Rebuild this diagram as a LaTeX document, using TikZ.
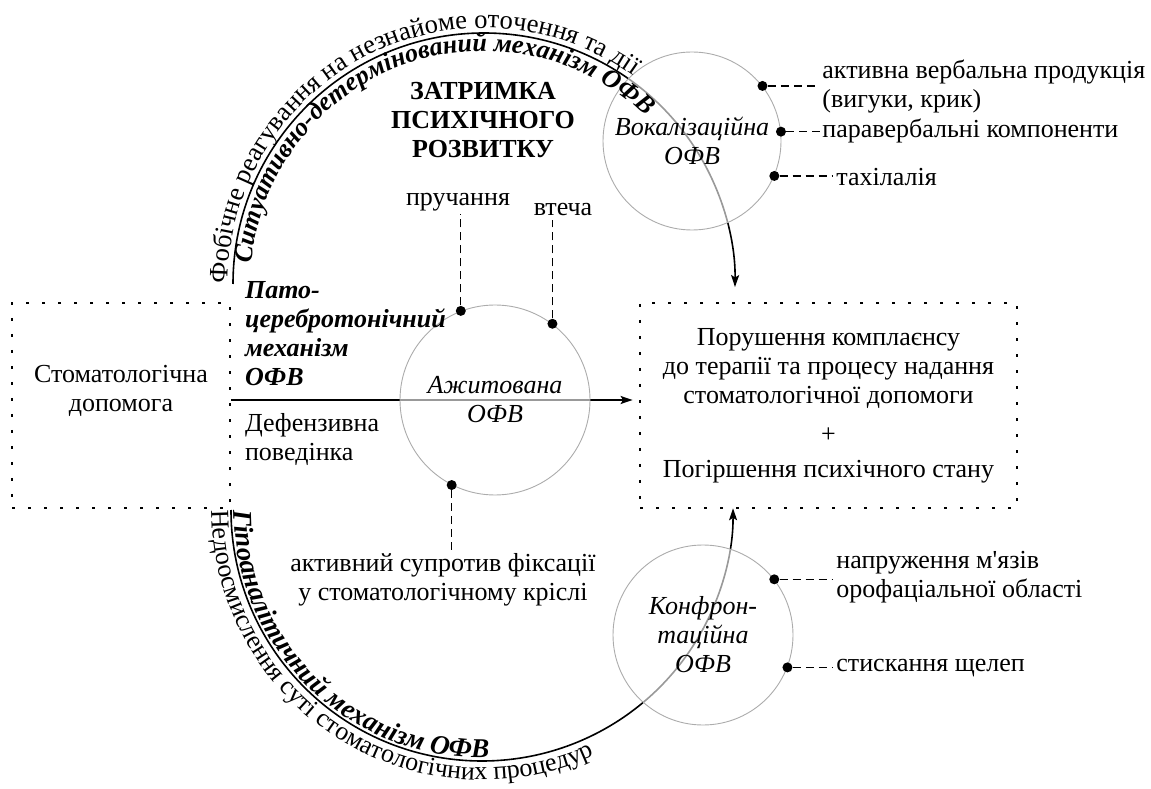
\documentclass[tikz,border=0pt]{standalone}
\usepackage{fontspec}
\setmainfont{Liberation Serif}
\usetikzlibrary{arrows.meta}
\usetikzlibrary{positioning}
\usetikzlibrary{calc, backgrounds, decorations.text}

\tikzset{
  dotbox/.style={draw, line width=1.4pt, dash pattern=on 1.4pt off 6.6pt, inner sep=0pt},
  ofv/.style={circle, draw=gray!65, line width=0.45pt, fill=white, fill opacity=0.6, text opacity=1, font=\itshape, align=center, inner sep=0pt},
  flow/.style={line width=0.8pt, -{Stealth[length=6pt,width=4pt,inset=1.2pt]}},
  dot/.style={circle, fill=black, inner sep=0pt, minimum size=5pt},
  lead/.style={line width=0.6pt, dash pattern=on 4pt off 2.5pt},
  lbl/.style={inner sep=1.5pt, align=left}
}

\begin{document}
\fontsize{13}{14.5}\selectfont
\begin{tikzpicture}[x=0.5pt,y=0.5pt]
\useasboundingbox (0,0) rectangle (1151,788);

% boxes
\node[dotbox, minimum width=109pt, minimum height=102.5pt] (care) at (121,382.5) {};
\node[align=center] (care text) at (121,397) {Стоматологічна\\допомога};
\node[dotbox, minimum width=188.5pt, minimum height=102.5pt, align=center] (result) at (828.5,382.5)
  {Порушення комплаєнсу\\до терапії та процесу надання\\стоматологічної допомоги\\[5pt]+\\[3pt]Погіршення психічного стану};

% forms of behaviour
\node[ofv, minimum size=95pt] (agit) at (495,388) {Ажитована\\ОФВ};
\node[ofv, minimum size=89pt] (vocal) at (692,647) {Вокалізаційна\\ОФВ};
\node[ofv, minimum size=90pt] (confr) at (703,153) {Конфрон-\\таційна\\ОФВ};

\node[font=\bfseries, align=center] (delay) at (483,668) {ЗАТРИМКА\\ПСИХІЧНОГО\\РОЗВИТКУ};
\node[font=\bfseries\itshape, align=left, anchor=west] (patho) at (236,454) {Пато-\\церебротонічний\\механізм\\ОФВ};
\node[align=left, anchor=west] (defens) at (236,349) {Дефензивна\\поведінка};

% agitated
\node[dot] (pr dot) at (agit.111) {};
\node[dot] (vt dot) at (agit.53) {};
\node[dot] (res dot) at (agit.243) {};
\node[lbl] (pr) at (458,586) {пручання};
\node[lbl] (vt) at (563,578) {втеча};
\node[lbl, align=center] (resist) at (443,208) {активний супротив фіксації\\у стоматологічному кріслі};
\draw[lead] (pr dot) -- (pr dot |- pr.south);
\draw[lead] (vt dot) -- (vt dot |- vt.south);
\draw[lead] (res dot) -- (res dot |- resist.north);

% vocal
\node[dot] (v1 dot) at (vocal.38) {};
\node[dot] (v2 dot) at (vocal.6) {};
\node[dot] (v3 dot) at (vocal.-23) {};
\node[lbl, anchor=west] (verbal) at (819,701.5) {активна вербальна продукція\\(вигуки, крик)};
\node[lbl, anchor=west, inner sep=0.5pt] (para) at (821,657) {паравербальні компоненти};
\node[lbl, anchor=west] (tachy) at (833,611) {тахілалія};
\draw[lead] (v1 dot) -- (v1 dot -| verbal.west);
\draw[lead] (v2 dot) -- (v2 dot -| para.west);
\draw[lead] (v3 dot) -- (v3 dot -| tachy.west);

% confrontation
\node[dot] (k1 dot) at (confr.38) {};
\node[dot] (k2 dot) at (confr.-21) {};
\node[lbl, anchor=west] (tension) at (833,211) {напруження м\textquotesingle язів\\орофаціальної області};
\node[lbl, anchor=west] (jaw) at (833,120) {стискання щелеп};
\draw[lead] (k1 dot) -- (k1 dot -| tension.west);
\draw[lead] (k2 dot) -- (k2 dot -| jaw.west);

% mechanisms
\coordinate (top c) at (484,504);
\coordinate (bot c) at (482,278);
\begin{scope}[on background layer]
\draw[flow] ($(top c)+(180:251)$) arc[start angle=180, end angle=-0.7, radius=251];
\draw[flow] ($(bot c)+(180:251)$) arc[start angle=180, end angle=360.4, radius=251];
\draw[flow, shorten >=3pt] (care.east |- agit.center) -- (result.west |- agit.center);
\end{scope}

\path[decorate, decoration={text along path, text={|\fontsize{13.3}{15}\selectfont|Фобічне реагування на незнайоме оточення та дії}}]
  ($(top c)+(180:256)$) arc[start angle=180, end angle=20, radius=256];
\path[decorate, decoration={text along path, text={|\fontsize{13}{15}\selectfont\bfseries\itshape|Ситуативно-детермінований механізм ОФВ}}]
  ($(top c)+(175:233)$) arc[start angle=175, end angle=20, radius=233];
\path[decorate, decoration={text along path, text={|\fontsize{13.6}{15}\selectfont\bfseries\itshape|Гіпоаналітичний механізм ОФВ}}]
  ($(bot c)+(180:248)$) arc[start angle=180, end angle=340, radius=248];
\path[decorate, decoration={text along path, text={|\fontsize{13}{15}\selectfont|Недоосмислення суті стоматологічних процедур}}]
  ($(bot c)+(180:270)$) arc[start angle=180, end angle=340, radius=270];

\end{tikzpicture}
\end{document}
